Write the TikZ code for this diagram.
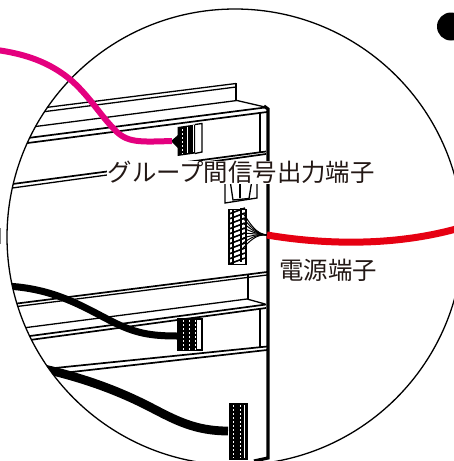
\documentclass[tikz,border=0pt]{standalone}
\usepackage{fontspec}
\newfontfamily\cjk{Noto Sans CJK JP}
\definecolor{magentaW}{HTML}{E4007F}
\definecolor{redW}{HTML}{E60012}
\definecolor{txtc}{HTML}{231815}
\tikzset{
  px/.style={x=1pt,y=-1pt},
  rail/.style={line width=1.3pt,black},
  railt/.style={line width=1.7pt,black},
  edgeL/.style={line width=3.2pt,black},
  wire/.style={line width=6pt},
  lab/.style={font=\cjk\fontsize{24.4}{28}\selectfont,text=txtc,inner sep=0pt},
  hatch/.style={line width=1.6pt,black},
  dots/.style={white,line width=1pt,dash pattern=on 2pt off 2pt},
}
\begin{document}
\begin{tikzpicture}[px]
\useasboundingbox (0,0) rectangle (454,461);
\begin{scope}
\clip (235,237) circle (228);
% upper shelf
\draw[rail] (30,109.5) -- (236,83.5) (30,113.5) -- (236,87);
\draw[rail] (236,83) -- (236,100);
\draw[rail] (20,128.5) -- (237,100.5) -- (265,107);
\draw[railt] (20,139) -- (265,107.5);
\draw[railt] (20,144) -- (267,112);
\draw[rail] (260,113) -- (260,152);
\draw[railt] (187,162) -- (266,151.5);
\draw[railt] (187,165) -- (266,154);
% rail running into the leader
\draw[railt] (5,185) -- (107,171.5);
\draw[rail] (5,189) -- (107,175);
% middle shelf
\draw[railt] (5,305) -- (267,272);
\draw[rail] (5,308) -- (267,275);
\draw[rail] (248,275) -- (248,299);
\draw[rail] (15,329) -- (247,299) -- (265,304);
\draw[railt] (15,338) -- (266,304.5);
\draw[railt] (15,342) -- (266,308);
\draw[rail] (260,309) -- (260,347);
\draw[railt] (45,369) -- (267,346.5);
\draw[railt] (45,375) -- (267,350);
% right edge
\draw[edgeL] (264,106) -- (268,109) -- (268,458) -- (254,461);
\end{scope}
% group signal connector
\fill (177.5,127) -- (195,124.5) -- (195,153.5) -- (177.5,156) -- cycle;
\draw[rail] (195,124.5) -- (202,123.5) -- (202,152) -- (195,153.5);
\draw[white,line width=1pt] (187,127) -- (187,153) (193,125) -- (193,152);
\draw[dots] (182,129) -- (182,154);
\fill (171,141) -- (178,135) -- (178,148) -- cycle;
% power connector
\node[draw=black,line width=1.8pt,minimum width=17pt,minimum height=55pt,inner sep=0pt] (cpow) at (237.5,237) {};
\draw[line width=1.6pt] (233,210) -- (233,264) (241,208) -- (241,262);
\foreach \y in {214,219,...,264}{\draw[hatch] (229,\y) -- (245,\y-6);}
\coordinate (powend) at (267,235);
\foreach \y in {213,218,223,228,233,238,243,248}{\draw[line width=1pt] (243,\y) .. controls (250,\y*0.5+117) and (256,234) .. (powend);}
% small box under the text
\draw[rail] (225,180) -- (225,203) -- (257,198) -- (257,180);
\draw[rail] (230,180) -- (233,200) -- (249,198.5) -- (252,180);
\draw[rail] (240,180) -- (240,198);
% lower connector 1
\node[draw=black,line width=1.2pt,minimum width=24pt,minimum height=31pt,inner sep=0pt] (cblk) at (190,334.5) {};
\fill (178,320) rectangle (197,350);
\draw[dots] (183,320) -- (183,350) (189,320) -- (189,350) (195,320) -- (195,350);
% lower connector 2
\node[draw=black,fill=black,line width=1pt,minimum width=18pt,minimum height=56pt,inner sep=0pt] (clow) at (238,431.5) {};
\draw[dots] (233,405) -- (233,458) (240,405) -- (240,458);
\draw[white,line width=1.3pt] (244.5,405) -- (244.5,458);
% lens outline
\draw[line width=1.3pt] (235,237) circle (228);
% wires
\coordinate (wa) at (-3,50);
\coordinate (wb) at (172,141);
\draw[wire,magentaW] (wa) .. controls (25,54) and (50,62) .. (72,81) .. controls (90,97) and (100,115) .. (115,130) .. controls (127,143) and (140,142) .. (wb);
\draw[wire,redW,line width=7pt] (powend) .. controls (320,244) and (390,247) .. (456,229);
\begin{scope}
\clip (235,237) circle (228);
\draw[black,line width=7pt] (5,286) .. controls (55,288) and (85,308) .. (113,322) .. controls (135,333) and (150,336) .. (177,336);
\draw[black,line width=8.8pt] (40,368) .. controls (80,377) and (115,389) .. (150,407) .. controls (175,420) and (195,431) .. (228,431);
\end{scope}
% bullet
\fill (451,26.5) circle (14);
\draw[gray,line width=1pt] (0.5,228) -- (0.5,244);
% white ground of the label
\fill[white] (107,161) rectangle (270,184);
\node[lab,anchor=west] (t1) at (107.5,172.5) {グループ間信号出力端子};
\node[lab,anchor=west] (t2) at (279,270) {電源端子};
\end{tikzpicture}
\end{document}
